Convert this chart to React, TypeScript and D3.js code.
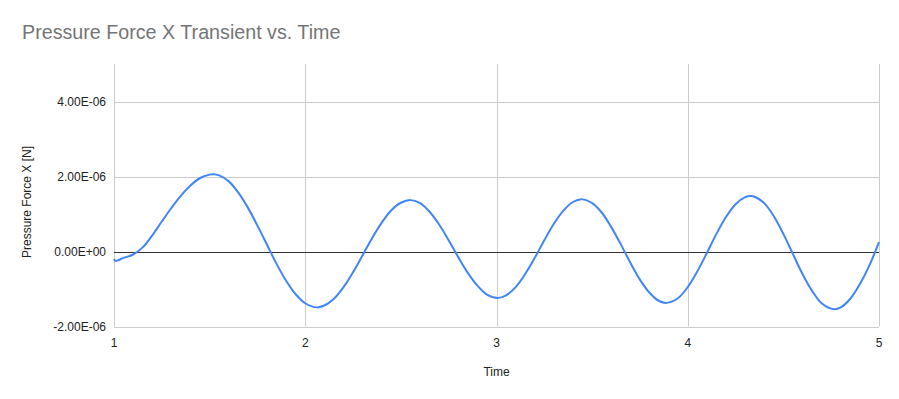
import React, { useEffect, useRef } from 'react'
import * as d3 from 'd3'

const title = 'Pressure Force X Transient vs. Time'
const xTitle = 'Time'
const yTitle = 'Pressure Force X [N]'

const xTicks = [1, 2, 3, 4, 5]
const yTicks = [-2e-6, 0, 2e-6, 4e-6]

// time samples and force values (units of 1e-6 N)
const times = [
  1.0, 1.008, 1.05, 1.1, 1.15, 1.2, 1.25, 1.3, 1.35, 1.4, 1.45, 1.5, 1.52,
  1.55, 1.6, 1.65, 1.7, 1.75, 1.8, 1.85, 1.9, 1.95, 2.0, 2.06,
  2.1, 2.15, 2.2, 2.25, 2.3, 2.35, 2.4, 2.45, 2.5, 2.55,
  2.6, 2.65, 2.7, 2.75, 2.8, 2.85, 2.9, 2.95, 3.005,
  3.05, 3.1, 3.15, 3.2, 3.25, 3.3, 3.35, 3.4, 3.447,
  3.5, 3.55, 3.6, 3.65, 3.7, 3.75, 3.8, 3.85, 3.89,
  3.95, 4.0, 4.05, 4.1, 4.15, 4.2, 4.25, 4.3, 4.33,
  4.35, 4.4, 4.45, 4.5, 4.55, 4.6, 4.65, 4.7, 4.764,
  4.8, 4.85, 4.9, 4.95, 5.0,
]
const forceX = [
  -0.2, -0.25, -0.17, -0.08, 0.11, 0.43, 0.8, 1.16, 1.49, 1.76, 1.96, 2.05, 2.06,
  2.03, 1.87, 1.57, 1.17, 0.69, 0.18, -0.33, -0.78, -1.14, -1.38, -1.49,
  -1.44, -1.26, -0.95, -0.55, -0.1, 0.36, 0.77, 1.1, 1.3, 1.37,
  1.29, 1.06, 0.72, 0.3, -0.15, -0.57, -0.91, -1.15, -1.24,
  -1.17, -0.95, -0.6, -0.17, 0.3, 0.74, 1.09, 1.32, 1.39,
  1.29, 1.04, 0.65, 0.19, -0.3, -0.75, -1.1, -1.32, -1.37,
  -1.24, -0.95, -0.53, -0.04, 0.47, 0.92, 1.26, 1.45, 1.48,
  1.46, 1.29, 0.94, 0.47, -0.07, -0.6, -1.05, -1.38, -1.54,
  -1.49, -1.26, -0.87, -0.37, 0.25,
]

const W = 899, H = 399
const margin = { left: 114, right: 20, top: 64, bottom: 72.5 }
const font = '"Liberation Sans", Arial, sans-serif'

export default function App() {
  const ref = useRef<SVGSVGElement>(null)

  useEffect(() => {
    const svg = d3.select(ref.current)
    svg.selectAll('*').remove()

    const x = d3.scaleLinear().domain([1, 5]).range([margin.left, W - margin.right])
    const y = d3.scaleLinear().domain([-2e-6, 5e-6]).range([H - margin.bottom, margin.top])

    svg.append('rect').attr('width', W).attr('height', H).attr('fill', '#fff')

    // grid
    svg.append('g').selectAll('line').data(yTicks.filter(d => d !== 0)).enter()
      .append('line')
      .attr('x1', margin.left).attr('x2', W - margin.right)
      .attr('y1', d => Math.round(y(d)) + 0.5).attr('y2', d => Math.round(y(d)) + 0.5)
      .attr('stroke', '#ccc').attr('stroke-width', 1)

    svg.append('g').selectAll('line').data(xTicks).enter()
      .append('line')
      .attr('x1', d => Math.round(x(d)) + 0.5).attr('x2', d => Math.round(x(d)) + 0.5)
      .attr('y1', margin.top).attr('y2', H - margin.bottom)
      .attr('stroke', '#ccc').attr('stroke-width', 1)

    // zero baseline
    svg.append('line')
      .attr('x1', margin.left).attr('x2', W - margin.right)
      .attr('y1', Math.round(y(0)) + 0.5).attr('y2', Math.round(y(0)) + 0.5)
      .attr('stroke', '#333').attr('stroke-width', 1)

    // tick labels
    svg.append('g').selectAll('text').data(yTicks).enter()
      .append('text')
      .attr('x', margin.left - 8)
      .attr('y', d => y(d) + 4)
      .attr('text-anchor', 'end')
      .attr('font-family', font).attr('font-size', 12).attr('fill', '#222')
      .text(d => d === 0 ? '0.00E+00' : d.toExponential(2).replace(/e([+-])(\d)$/, 'E$10$2').toUpperCase())

    svg.append('g').selectAll('text').data(xTicks).enter()
      .append('text')
      .attr('x', d => x(d))
      .attr('y', H - margin.bottom + 20)
      .attr('text-anchor', 'middle')
      .attr('font-family', font).attr('font-size', 12).attr('fill', '#222')
      .text(d => String(d))

    // line
    const pts = times.map((t, i) => [t, forceX[i] * 1e-6] as [number, number])
    const line = d3.line<[number, number]>()
      .x(d => x(d[0])).y(d => y(d[1]))
      .curve(d3.curveCatmullRom.alpha(0.5))
    svg.append('path')
      .datum(pts)
      .attr('d', line)
      .attr('fill', 'none')
      .attr('stroke', '#4285F4')
      .attr('stroke-width', 2)

    // titles
    svg.append('text')
      .attr('x', 22).attr('y', 39)
      .attr('font-family', font).attr('font-size', 19.7).attr('fill', '#757575')
      .text(title)

    svg.append('text')
      .attr('x', (margin.left + W - margin.right) / 2).attr('y', 376)
      .attr('text-anchor', 'middle')
      .attr('font-family', font).attr('font-size', 12).attr('fill', '#222')
      .text(xTitle)

    svg.append('text')
      .attr('transform', `translate(31, 202) rotate(-90)`)
      .attr('text-anchor', 'middle')
      .attr('font-family', font).attr('font-size', 12).attr('fill', '#222')
      .text(yTitle)
  }, [])

  return (
    <svg ref={ref} width={W} height={H}
      style={{ position: 'absolute', left: 0, top: 0, display: 'block' }} />
  )
}
